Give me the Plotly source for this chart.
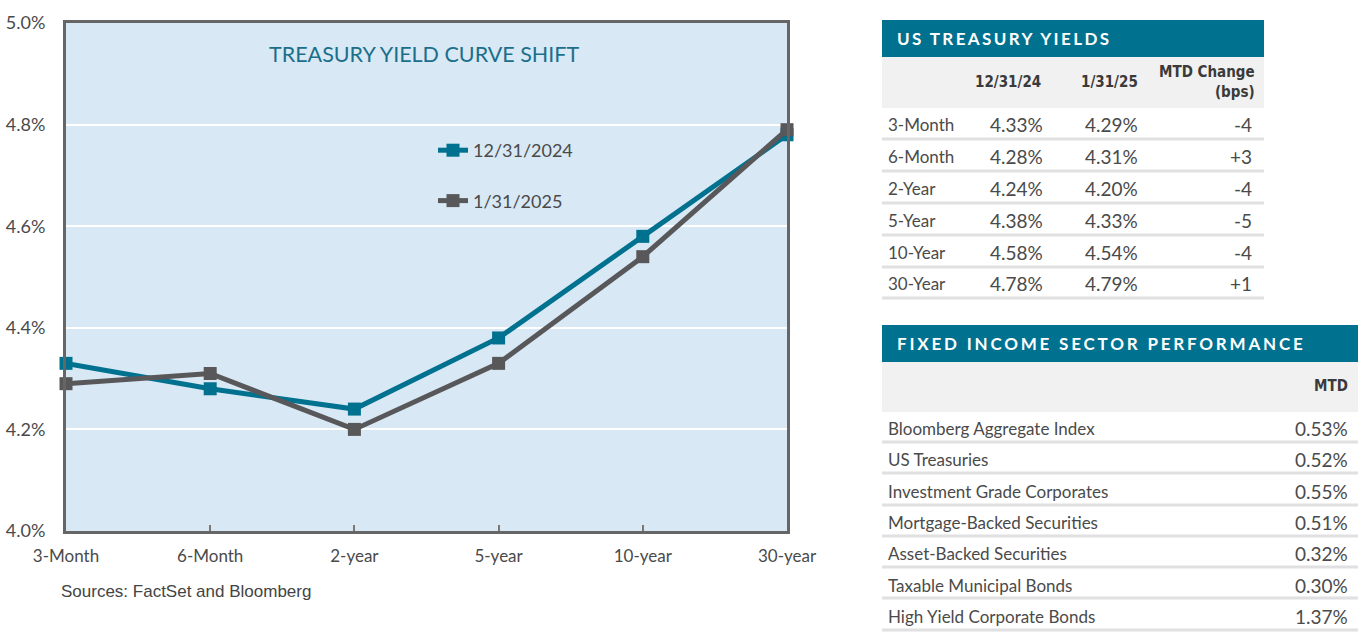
import plotly.graph_objects as go

W, H = 1366, 642

# ---------------- data ----------------
maturities = ["3-Month", "6-Month", "2-year", "5-year", "10-year", "30-year"]
yield_1231 = [4.33, 4.28, 4.24, 4.38, 4.58, 4.78]
yield_0131 = [4.29, 4.31, 4.20, 4.33, 4.54, 4.79]
series_names = ["12/31/2024", "1/31/2025"]

y_ticks = [4.0, 4.2, 4.4, 4.6, 4.8, 5.0]
y_tick_labels = ["4.0%", "4.2%", "4.4%", "4.6%", "4.8%", "5.0%"]

tsy_title = "US TREASURY YIELDS"
tsy_headers = ["12/31/24", "1/31/25", "MTD Change<br>(bps)"]
tsy_rows = ["3-Month", "6-Month", "2-Year", "5-Year", "10-Year", "30-Year"]
tsy_1231 = ["4.33%", "4.28%", "4.24%", "4.38%", "4.58%", "4.78%"]
tsy_0131 = ["4.29%", "4.31%", "4.20%", "4.33%", "4.54%", "4.79%"]
tsy_chg = ["-4", "+3", "-4", "-5", "-4", "+1"]

fi_title = "FIXED INCOME SECTOR PERFORMANCE"
fi_header = "MTD"
fi_rows = ["Bloomberg Aggregate Index", "US Treasuries", "Investment Grade Corporates",
           "Mortgage-Backed Securities", "Asset-Backed Securities",
           "Taxable Municipal Bonds", "High Yield Corporate Bonds"]
fi_mtd = ["0.53%", "0.52%", "0.55%", "0.51%", "0.32%", "0.30%", "1.37%"]

chart_title = "TREASURY YIELD CURVE SHIFT"
source_note = "Sources: FactSet and Bloomberg"

# ---------------- styles ----------------
TEAL = "#00718f"
GRAY = "#58585a"
TXT = "#4a4a4a"
BG = "#d8e8f4"
BAND = "#f1f1f1"
SEP = "#e0e0e2"
FUT = "Lato, 'Open Sans', sans-serif"
NARROW = "'Liberation Sans Narrow', 'DejaVu Sans Condensed', 'Arial Narrow', sans-serif"


def fx(px):
    return px / W


def fy(py):
    return 1 - py / H


fig = go.Figure()
for name, vals, col in [(series_names[0], yield_1231, TEAL), (series_names[1], yield_0131, GRAY)]:
    fig.add_trace(go.Scatter(
        x=maturities, y=vals, name=name, mode="lines+markers",
        line=dict(color=col, width=5),
        marker=dict(symbol="square", size=13, color=col),
        legendgroup=name, cliponaxis=False,
    ))

shapes = []
annotations = []

# chart title & source
annotations.append(dict(x=fx(424), y=fy(54), xref="paper", yref="paper", text=chart_title,
                        showarrow=False, xanchor="center", yanchor="middle",
                        font=dict(family=FUT, size=21.5, color="#1b6f8b")))
annotations.append(dict(x=fx(59), y=fy(591), xref="paper", yref="paper", text=source_note,
                        showarrow=False, xanchor="left", yanchor="middle",
                        font=dict(family="'Liberation Sans', Arial, sans-serif", size=17, color="#444444")))

# ---------- Table 1 ----------
t1_l, t1_r = 882, 1264
shapes.append(dict(type="rect", xref="paper", yref="paper", x0=fx(t1_l), x1=fx(t1_r), y0=fy(20), y1=fy(57),
                   fillcolor=TEAL, line=dict(width=0)))
shapes.append(dict(type="rect", xref="paper", yref="paper", x0=fx(t1_l), x1=fx(t1_r), y0=fy(57), y1=fy(108),
                   fillcolor=BAND, line=dict(width=0)))
annotations.append(dict(x=fx(895), y=fy(39), xref="paper", yref="paper",
                        text='<b><span style="letter-spacing:2.4px">' + tsy_title + '</span></b>',
                        showarrow=False, xanchor="left", yanchor="middle",
                        font=dict(family=FUT, size=17, color="white")))
hdr_x = [(1008, "center"), (1109, "center"), (1257, "right")]
for h, (px, anc) in zip(tsy_headers, hdr_x):
    annotations.append(dict(x=fx(px), y=fy(82), xref="paper", yref="paper", text="<b>" + h + "</b>",
                            showarrow=False, xanchor=anc, yanchor="middle", align="right",
                            font=dict(family=NARROW, size=15, color="#3a3a3a")))
row_c1 = [125, 157, 188, 220, 252, 283]
sep1 = [139, 171, 203, 235, 267, 298]
for i, lab in enumerate(tsy_rows):
    yc = row_c1[i]
    for txt, px, anc, sz in [(lab, 886, "left", 17), (tsy_1231[i], 1016, "center", 19),
                             (tsy_0131[i], 1111, "center", 19), (tsy_chg[i], 1254, "right", 19)]:
        annotations.append(dict(x=fx(px), y=fy(yc), xref="paper", yref="paper", text=txt,
                                showarrow=False, xanchor=anc, yanchor="middle",
                                font=dict(family=FUT, size=sz, color=TXT)))
    shapes.append(dict(type="line", xref="paper", yref="paper", x0=fx(t1_l), x1=fx(t1_r),
                       y0=fy(sep1[i]), y1=fy(sep1[i]), line=dict(color=SEP, width=3)))

# ---------- Table 2 ----------
t2_l, t2_r = 882, 1358
shapes.append(dict(type="rect", xref="paper", yref="paper", x0=fx(t2_l), x1=fx(t2_r), y0=fy(325), y1=fy(362),
                   fillcolor=TEAL, line=dict(width=0)))
shapes.append(dict(type="rect", xref="paper", yref="paper", x0=fx(t2_l), x1=fx(t2_r), y0=fy(362), y1=fy(412),
                   fillcolor=BAND, line=dict(width=0)))
annotations.append(dict(x=fx(895), y=fy(344), xref="paper", yref="paper",
                        text='<b><span style="letter-spacing:2.8px">' + fi_title + '</span></b>',
                        showarrow=False, xanchor="left", yanchor="middle",
                        font=dict(family=FUT, size=17, color="white")))
annotations.append(dict(x=fx(1350), y=fy(386), xref="paper", yref="paper", text="<b>" + fi_header + "</b>",
                        showarrow=False, xanchor="right", yanchor="middle",
                        font=dict(family=NARROW, size=15, color="#3a3a3a")))
row_c2 = [428, 459, 491, 522, 553, 585, 616]
sep2 = [442, 473, 505, 536, 567, 598, 630]
for i, lab in enumerate(fi_rows):
    yc = row_c2[i]
    for txt, px, anc, sz in [(lab, 886, "left", 17), (fi_mtd[i], 1350, "right", 19)]:
        annotations.append(dict(x=fx(px), y=fy(yc), xref="paper", yref="paper", text=txt,
                                showarrow=False, xanchor=anc, yanchor="middle",
                                font=dict(family=FUT, size=sz, color=TXT)))
    shapes.append(dict(type="line", xref="paper", yref="paper", x0=fx(t2_l), x1=fx(t2_r),
                       y0=fy(sep2[i]), y1=fy(sep2[i]), line=dict(color=SEP, width=3)))

fig.update_layout(
    width=W, height=H,
    margin=dict(l=0, r=0, t=0, b=0, autoexpand=False),
    paper_bgcolor="white", plot_bgcolor=BG,
    font=dict(family=FUT, size=17, color=TXT),
    showlegend=True,
    legend=dict(x=fx(433), y=fy(132), xanchor="left", yanchor="top", bgcolor="rgba(0,0,0,0)",
                tracegroupgap=24, font=dict(family=FUT, size=18, color=TXT)),
    xaxis=dict(domain=[fx(66), fx(787)], type="category", range=[0, 5],
               showgrid=False, showline=True, mirror=True, linecolor="#666666", linewidth=3,
               ticks="inside", ticklen=6, tickwidth=2, tickcolor="#777777",
               tickfont=dict(family=FUT, size=17, color=TXT), ticklabelstandoff=8),
    yaxis=dict(domain=[fy(531), fy(23)], range=[4.0, 5.0], tickvals=y_ticks, ticktext=y_tick_labels,
               showgrid=True, gridcolor="white", gridwidth=2,
               zeroline=False, showline=True, mirror=True, linecolor="#666666", linewidth=3,
               ticks="", tickfont=dict(family=FUT, size=18, color=TXT), ticklabelstandoff=14),
    shapes=shapes, annotations=annotations,
)

fig.write_html("out.html")
